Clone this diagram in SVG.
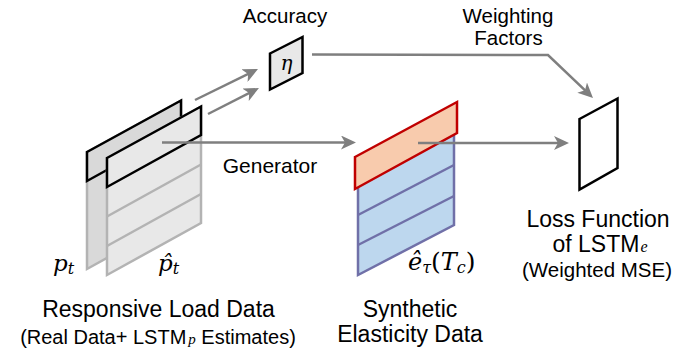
<svg xmlns="http://www.w3.org/2000/svg" width="699" height="354" viewBox="0 0 699 354">
  <style>
    .lbl { font-family: "Liberation Sans", Arial, sans-serif; fill: #000; text-anchor: middle; }
    .math { font-family: "DejaVu Serif", "Liberation Serif", serif; font-style: italic; fill: #000; }
    .sub { font-family: "Liberation Serif", "DejaVu Serif", serif; font-style: italic; }
    .edge { stroke: #7f7f7f; stroke-width: 2.5; fill: none; }
    .panel { stroke: #000; stroke-width: 2.5; stroke-linejoin: miter; }
    .greyBody { stroke: #b3b3b3; stroke-width: 2.5; }
    .blueBody { fill: #bdd7ee; stroke: #7070a8; stroke-width: 2.5; }
  </style>
  <defs>
    <marker id="arrow" markerUnits="userSpaceOnUse" markerWidth="16" markerHeight="14" refX="11" refY="7" orient="auto">
      <path d="M0,0 L15,7 L0,14 L4,7 z" fill="#7f7f7f"/>
    </marker>
  </defs>

  <rect width="699" height="354" fill="#fff"/>

  <!-- responsive load data: real data sheet (back) -->
  <g id="real-data">
    <polygon class="greyBody" fill="#d9d9d9" points="87,152 181,100.5 181,217 87,269"/>
    <polygon class="panel" fill="#d9d9d9" points="87,152 181,100.5 181,129 87,181"/>
  </g>

  <!-- responsive load data: LSTM_p estimate sheet (front) -->
  <g id="estimates">
    <polygon class="greyBody" fill="#e8e8e8" points="107,158 201,106.5 201,223 107,275"/>
    <line class="greyBody" x1="107" y1="216.5" x2="201" y2="164.5"/>
    <line class="greyBody" x1="107" y1="246" x2="201" y2="194"/>
    <polygon class="panel" fill="#e8e8e8" points="107,158 201,106.5 201,135 107,187"/>
  </g>

  <!-- accuracy block -->
  <g id="accuracy">
    <polygon class="panel" fill="#e8e8e8" points="270,53.5 302.5,37 302.5,73 270,89.5"/>
    <text class="math" x="286.5" y="70" font-size="20" text-anchor="middle">η</text>
  </g>

  <!-- synthetic elasticity data sheet -->
  <g id="elasticity">
    <polygon class="blueBody" points="358,185 454,133 454,225 358,275"/>
    <line class="blueBody" x1="358" y1="215" x2="454" y2="165"/>
    <line class="blueBody" x1="358" y1="245" x2="454" y2="196"/>
    <polygon fill="#f8cbad" stroke="#c00000" stroke-width="2.5" points="355,157 457,102 457,133 355,189"/>
  </g>

  <!-- loss function block -->
  <g id="loss">
    <polygon class="panel" fill="#fff" points="579.5,119 617.5,98.5 617.5,168 579.5,189.5"/>
  </g>

  <!-- connectors -->
  <g id="connectors">
    <line class="edge" x1="162" y1="142.5" x2="352" y2="142.5" marker-end="url(#arrow)"/>
    <line class="edge" x1="418" y1="143" x2="565" y2="143" marker-end="url(#arrow)"/>
    <line class="edge" x1="195" y1="100" x2="254.4" y2="70.8" marker-end="url(#arrow)"/>
    <line class="edge" x1="208" y1="114" x2="255.4" y2="89.8" marker-end="url(#arrow)"/>
    <polyline class="edge" points="312,54.5 548,55 590.1,95.2" marker-end="url(#arrow)"/>
  </g>

  <!-- labels -->
  <g id="labels">
    <text class="lbl" x="285" y="23" font-size="20.5">Accuracy</text>
    <text class="lbl" x="508" y="23" font-size="20.5">Weighting</text>
    <text class="lbl" x="508.5" y="45" font-size="20.5">Factors</text>
    <text class="lbl" x="270" y="173" font-size="21">Generator</text>

    <text class="lbl" x="598" y="227" font-size="23">Loss Function</text>
    <text class="lbl" x="600" y="252" font-size="23">of LSTM<tspan class="sub" font-size="16" dx="1">e</tspan></text>
    <text class="lbl" x="597" y="277" font-size="20.5">(Weighted MSE)</text>

    <text class="lbl" x="410" y="317" font-size="23">Synthetic</text>
    <text class="lbl" x="410" y="342" font-size="23">Elasticity Data</text>

    <text class="lbl" x="158.5" y="317" font-size="23">Responsive Load Data</text>
    <text class="lbl" x="158" y="344" font-size="20">(Real Data+ LSTM<tspan class="sub" font-size="15" dx="2">p</tspan> Estimates)</text>

    <text class="math" x="53" y="271" font-size="23">p<tspan font-size="16" dy="3">t</tspan></text>
    <text class="math" x="158" y="271" font-size="23">p̂<tspan font-size="16" dy="3">t</tspan></text>
    <text class="math" x="408" y="270" font-size="24">ê<tspan font-size="16" dy="3">τ</tspan><tspan dy="-3" font-style="normal" font-size="25">(</tspan>T<tspan font-size="16" dy="3">c</tspan><tspan dy="-3" font-style="normal" font-size="25">)</tspan></text>
  </g>
</svg>
